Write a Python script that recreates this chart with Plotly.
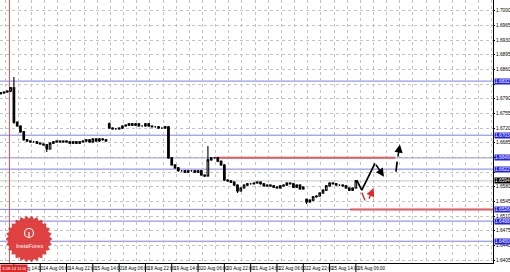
import math
import plotly.graph_objects as go

# ---------------- data (H1 chart, one candle per 2 bars) ----------------
closes = [
    1.6804, 1.6806, 1.6808, 1.6816, 1.6734, 1.6725, 1.6711, 1.6692, 1.6689, 1.6687,
    1.6687, 1.6684, 1.6682, 1.6680, 1.6670, 1.6684, 1.6687, 1.6689, 1.6687, 1.6689,
    1.6687, 1.6684, 1.6687, 1.6684, 1.6687, 1.6689, 1.6692, 1.6687, 1.6694, 1.6689,
    1.6694, 1.6692, 1.6689, 1.6720, 1.6718, 1.6718, 1.6720, 1.6725, 1.6727, 1.6730,
    1.6727, 1.6730, 1.6725, 1.6725, 1.6730, 1.6725, 1.6723, 1.6723, 1.6720, 1.6720,
    1.6723, 1.6649, 1.6632, 1.6625, 1.6618, 1.6618, 1.6615, 1.6618, 1.6618, 1.6615,
    1.6618, 1.6608, 1.6606, 1.6644, 1.6649, 1.6649, 1.6641, 1.6632, 1.6596, 1.6594,
    1.6591, 1.6584, 1.6570, 1.6577, 1.6584, 1.6587, 1.6587, 1.6589, 1.6591, 1.6587,
    1.6582, 1.6584, 1.6582, 1.6579, 1.6577, 1.6582, 1.6584, 1.6589, 1.6587, 1.6579,
    1.6584, 1.6575, 1.6579, 1.6544, 1.6548, 1.6556, 1.6558, 1.6565, 1.6572, 1.6582,
    1.6589, 1.6587, 1.6584, 1.6584, 1.6582, 1.6577, 1.6572, 1.6577, 1.6594,
]
first_open = 1.6802
gap_opens = {33: 1.6730, 93: 1.6550}
high_overrides = {4: 1.6842, 33: 1.6733, 63: 1.6677}
low_overrides = {4: 1.6730, 14: 1.6663, 62: 1.6603, 72: 1.6565, 93: 1.6539}
bars_per_candle = 2

x_tick_bars = [8, 24, 40, 56, 72, 88, 104, 120, 136, 152, 168, 184, 200, 216]
x_tick_labels = ["13 Aug 14:00", "14 Aug 06:00", "14 Aug 22:00", "15 Aug 14:00",
                 "18 Aug 06:00", "18 Aug 22:00", "19 Aug 14:00", "20 Aug 06:00",
                 "20 Aug 22:00", "21 Aug 14:00", "22 Aug 06:00", "22 Aug 22:00",
                 "25 Aug 14:00", "26 Aug 06:00"]
y_grid_vals = [1.6405, 1.6440, 1.6475, 1.6510, 1.6545, 1.6580, 1.6615, 1.6650,
               1.6685, 1.6720, 1.6755, 1.6790, 1.6825, 1.6860, 1.6895, 1.6930,
               1.6965, 1.7000]
y_hidden_labels = [1.6615, 1.6650, 1.6825]

blue_levels = [1.6832, 1.6703, 1.6649, 1.6622, 1.6526, 1.6498, 1.6450]
red_segments = [(130.3, 239.8, 1.6649), (212.4, 299.4, 1.6526)]
current_price = 1.6594
red_vline_bar = 5.3
red_vline_label = "13.08.14 11:00"

# forecast drawings (bar, price)
black_path_x = [216.5, 219.6, 227.6]
black_path_y = [1.6596, 1.6572, 1.6636]
black_arrow1 = (227.6, 1.6636, 233.1, 1.6604)
black_dash_x = [240.4, 241.1]
black_dash_y = [1.6616, 1.6640]
black_arrow2 = (241.4, 1.6648, 242.8, 1.6681)
red_dash_x = [219.6, 221.6]
red_dash_y = [1.6566, 1.6547]
red_arrow = (223.6, 1.6548, 226.8, 1.6577)

X_RANGE = [-0.455, 299.4]
Y_RANGE = [1.63981, 1.70255]
GRID_X0, GRID_DX = 10.7, 8

# ---------------- build OHLC ----------------
bars = [k * bars_per_candle for k in range(len(closes))]
opens = []
for k in range(len(closes)):
    if k in gap_opens:
        opens.append(gap_opens[k])
    elif k == 0:
        opens.append(first_open)
    else:
        opens.append(closes[k - 1])
highs = [high_overrides.get(k, max(o, c) + 0.0002) for k, (o, c) in enumerate(zip(opens, closes))]
lows = [low_overrides.get(k, min(o, c) - 0.0002) for k, (o, c) in enumerate(zip(opens, closes))]

fig = go.Figure()
fig.add_trace(go.Candlestick(
    x=bars, open=opens, high=highs, low=lows, close=closes,
    increasing=dict(line=dict(color="black", width=1.1), fillcolor="white"),
    decreasing=dict(line=dict(color="black", width=1.1), fillcolor="black"),
    whiskerwidth=0, showlegend=False, hoverinfo="skip",
))

BLUE = "rgb(125,125,245)"
RED = "rgb(236,88,88)"
shapes = []
for lv in blue_levels:
    shapes.append(dict(type="line", xref="paper", x0=0, x1=1, yref="y", y0=lv, y1=lv,
                       line=dict(color=BLUE, width=1), layer="between"))
shapes.append(dict(type="line", xref="paper", x0=0, x1=1, yref="y", y0=current_price,
                   y1=current_price, line=dict(color="rgb(200,200,200)", width=1), layer="between"))
for x0, x1, lv in red_segments:
    shapes.append(dict(type="line", xref="x", x0=x0, x1=x1, yref="y", y0=lv, y1=lv,
                       line=dict(color=RED, width=2), layer="between"))
shapes.append(dict(type="line", xref="x", x0=red_vline_bar, x1=red_vline_bar, yref="paper",
                   y0=0, y1=1, line=dict(color="rgb(230,80,80)", width=1), layer="between"))
# time-axis separators
for b in x_tick_bars:
    shapes.append(dict(type="line", xref="x", x0=b, x1=b, yref="paper", y0=0, y1=-0.04,
                       line=dict(color="black", width=1), layer="above"))

# InstaForex logo (decorative star badge)
W, H = 493.0, 263.0
cx, cy, R1, R2, N = 29.0, 239.0, 23.5, 20.5, 26
pts = []
for i in range(2 * N):
    r = R1 if i % 2 == 0 else R2
    a = math.pi * i / N
    pts.append(((cx + r * math.cos(a)) / W, 1 - (cy + r * math.sin(a)) / H))
path = "M " + " L ".join(f"{x:.5f},{y:.5f}" for x, y in pts) + " Z"
shapes.append(dict(type="path", xref="paper", yref="paper", path=path,
                   fillcolor="rgb(222,55,55)", line=dict(width=0), layer="above", opacity=0.95))
shapes.append(dict(type="circle", xref="paper", yref="paper",
                   x0=(cx - 4.5) / W, x1=(cx + 4.5) / W, y0=1 - (cy - 1.5) / H, y1=1 - (cy - 10.5) / H,
                   line=dict(color="white", width=1.2), fillcolor="rgba(0,0,0,0)", layer="above"))
shapes.append(dict(type="line", xref="paper", yref="paper",
                   x0=cx / W, x1=cx / W, y0=1 - (cy - 2) / H, y1=1 - (cy - 7) / H,
                   line=dict(color="white", width=1.2), layer="above"))

# forecast lines
fig.add_trace(go.Scatter(x=black_path_x, y=black_path_y, mode="lines",
                         line=dict(color="black", width=1.7), showlegend=False, hoverinfo="skip"))
fig.add_trace(go.Scatter(x=black_dash_x, y=black_dash_y, mode="lines",
                         line=dict(color="black", width=1.7), showlegend=False, hoverinfo="skip"))
fig.add_trace(go.Scatter(x=red_dash_x, y=red_dash_y, mode="lines",
                         line=dict(color="rgb(230,40,40)", width=1.4), showlegend=False, hoverinfo="skip"))

annotations = []
for (ax, ay, x, y), col in [(black_arrow1, "black"), (black_arrow2, "black"), (red_arrow, "rgb(230,40,40)")]:
    annotations.append(dict(x=x, y=y, ax=ax, ay=ay, xref="x", yref="y", axref="x", ayref="y",
                            showarrow=True, arrowhead=2, arrowsize=1.1, arrowwidth=1.5,
                            arrowcolor=col, text=""))

FONT = "Liberation Sans"
# axis highlight labels
for lv in blue_levels:
    annotations.append(dict(x=1, xref="paper", xanchor="left", xshift=0.5, y=lv, yref="y",
                            yanchor="middle", text=f"{lv:.4f}", showarrow=False,
                            bgcolor="rgb(35,35,230)",
                            font=dict(size=4.8, color="white", family=FONT),
                            borderpad=0, width=15, height=5, align="left"))
annotations.append(dict(x=1, xref="paper", xanchor="left", xshift=0.5, y=current_price, yref="y",
                        yanchor="middle", text=f"{current_price:.4f}", showarrow=False, bgcolor="black",
                        font=dict(size=4.8, color="white", family=FONT),
                        borderpad=0, width=15, height=5, align="left"))
# time labels (left-aligned after separators, MT4 style)
for b, lab in zip(x_tick_bars, x_tick_labels):
    annotations.append(dict(x=b, xref="x", xanchor="left", xshift=0.5, y=0, yref="paper",
                            yanchor="top", yshift=-1, text=lab, showarrow=False,
                            font=dict(size=4.6, color="black", family=FONT)))
annotations.append(dict(x=0, xref="paper", xanchor="left", y=0, yref="paper", yanchor="top",
                        yshift=-0.5, text=red_vline_label, showarrow=False, bgcolor="rgb(225,40,40)",
                        font=dict(size=4.2, color="white", family=FONT),
                        borderpad=1, width=24))
annotations.append(dict(x=cx / W, y=1 - (cy + 7) / H, xref="paper", yref="paper",
                        xanchor="center", yanchor="middle",
                        text="InstaForex", showarrow=False,
                        font=dict(size=5.8, color="white", family=FONT)))

fig.update_layout(
    width=510, height=272,
    margin=dict(l=0, r=17, t=0, b=9),
    paper_bgcolor="white", plot_bgcolor="white",
    template="none",
    shapes=shapes, annotations=annotations,
    xaxis=dict(
        range=X_RANGE, rangeslider=dict(visible=False),
        tickmode="linear", tick0=GRID_X0, dtick=GRID_DX, showticklabels=False, ticks="",
        showline=True, linecolor="black", linewidth=1,
        showgrid=True, gridcolor="rgb(195,195,195)", griddash="dot", gridwidth=1,
        zeroline=False,
    ),
    yaxis=dict(
        range=Y_RANGE, side="right",
        tickmode="array", tickvals=y_grid_vals,
        ticktext=["" if v in y_hidden_labels else f"{v:.4f}" for v in y_grid_vals],
        ticks="outside", ticklen=1, tickcolor="black",
        tickfont=dict(size=4.8, color="black", family=FONT),
        showline=True, linecolor="black", linewidth=1,
        showgrid=True, gridcolor="rgb(195,195,195)", griddash="dot", gridwidth=1,
        zeroline=False,
    ),
)
fig.write_html("out.html")
